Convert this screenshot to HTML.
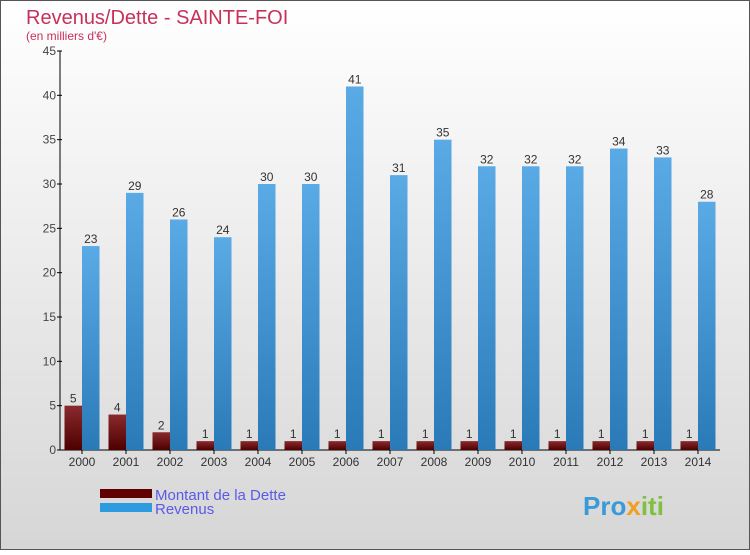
<!DOCTYPE html>
<html><head><meta charset="utf-8"><style>
body{margin:0;}
#c{width:750px;height:550px;position:relative;font-family:"Liberation Sans",sans-serif;}
</style></head><body>
<div id="c">
<svg id="s" width="750" height="550" xmlns="http://www.w3.org/2000/svg">
<defs>
<linearGradient id="bg" x1="0" y1="0" x2="0" y2="1"><stop offset="0" stop-color="#ffffff"/><stop offset="1" stop-color="#d6d6d6"/></linearGradient>
<linearGradient id="gd" x1="0" y1="0" x2="0" y2="1"><stop offset="0" stop-color="#8a2a2e"/><stop offset="1" stop-color="#4e0000"/></linearGradient>
<linearGradient id="gr" x1="0" y1="0" x2="0" y2="1"><stop offset="0" stop-color="#5aaae6"/><stop offset="1" stop-color="#2a7ab8"/></linearGradient>
</defs>
<rect x="0.5" y="0.5" width="749" height="549" fill="url(#bg)" stroke="#555"/>
<text x="26" y="24" font-size="20" fill="#c8305c">Revenus/Dette - SAINTE-FOI</text>
<text x="26" y="40" font-size="12" fill="#c8305c">(en milliers d'€)</text>
<g id="axes"></g>
<g id="bars"></g>
<rect x="100" y="489" width="52" height="9" fill="#600000"/>
<rect x="100" y="503" width="52" height="9" fill="#2e9ae0"/>
<text x="155" y="500" font-size="15" fill="#5a5ae8">Montant de la Dette</text>
<text x="155" y="514" font-size="15" fill="#5a5ae8">Revenus</text>
<text x="583" y="515" font-size="26" font-weight="bold" fill="#3a9ad8">Pro<tspan fill="#f0a020">x</tspan><tspan fill="#80c040">iti</tspan></text>
</svg>
</div>
<script>
const years=["2000","2001","2002","2003","2004","2005","2006","2007","2008","2009","2010","2011","2012","2013","2014"];
const dette=[5,4,2,1,1,1,1,1,1,1,1,1,1,1,1];
const revenus=[23,29,26,24,30,30,41,31,35,32,32,32,34,33,28];
const yTicks=[0,5,10,15,20,25,30,35,40,45];
const NS="http://www.w3.org/2000/svg";
const y0=450,yTop=51,yMax=45,x0=60,step=44,first=82,bw=17.5;
function ys(v){return y0-(v/yMax)*(y0-yTop);}
function xs(i){return first+i*step;}
function mk(t,a,p){const e=document.createElementNS(NS,t);for(const k in a)e.setAttribute(k,a[k]);p.appendChild(e);return e;}
const ax=document.getElementById('axes'),bg=document.getElementById('bars');
const ya=mk('line',{x1:x0,y1:yTop,x2:x0,y2:y0,stroke:'#000'},ax);


const xa=mk('line',{x1:x0,y1:y0,x2:720,y2:y0,stroke:'#000'},ax);


yTicks.forEach(v=>{
 mk('line',{x1:x0-3,y1:ys(v),x2:x0+2,y2:ys(v),stroke:'#000'},ax);
 const t=mk('text',{x:x0-4,y:ys(v)+4,'font-size':12,fill:'#444','text-anchor':'end'},ax);
 t.textContent=v;
 
 
});
years.forEach((yr,i)=>{
 const c=xs(i);
 mk('line',{x1:c,y1:y0,x2:c,y2:y0+4,stroke:'#000'},ax);
 const t=mk('text',{x:c,y:y0+16,'font-size':12,fill:'#333','text-anchor':'middle'},ax);
 t.textContent=yr;
 
 
 const d=mk('rect',{x:c-bw,y:ys(dette[i]),width:bw,height:y0-ys(dette[i]),fill:'url(#gd)'},bg);
 
 
 const r=mk('rect',{x:c,y:ys(revenus[i]),width:bw,height:y0-ys(revenus[i]),fill:'url(#gr)'},bg);
 
 
 const l1=mk('text',{x:c-bw/2,y:ys(dette[i])-3,'font-size':12,fill:'#333','text-anchor':'middle'},bg);
 l1.textContent=dette[i];
 
 
 const l2=mk('text',{x:c+bw/2,y:ys(revenus[i])-3,'font-size':12,fill:'#333','text-anchor':'middle'},bg);
 l2.textContent=revenus[i];
 
 
});
</script>
</body></html>
